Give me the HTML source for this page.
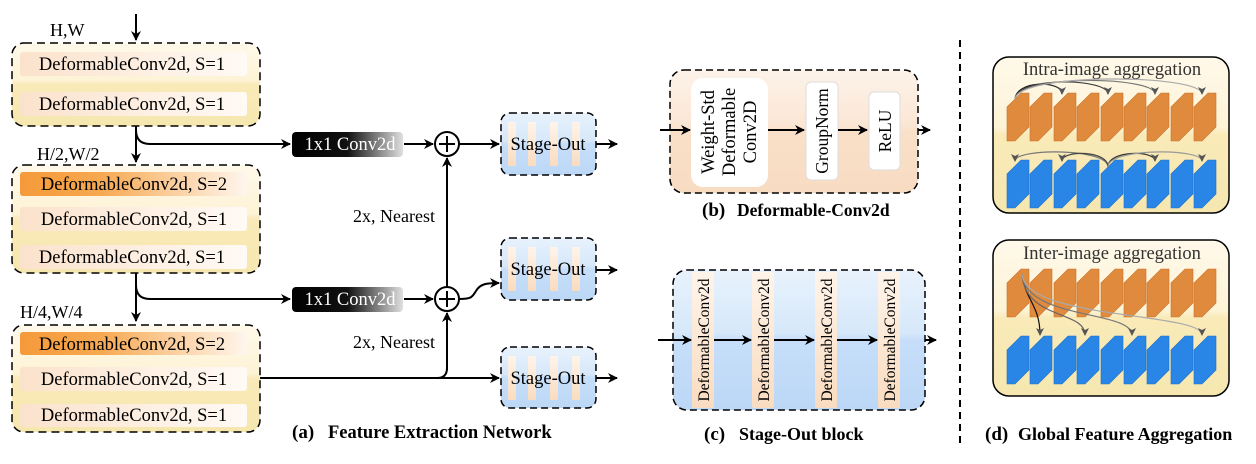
<!DOCTYPE html>
<html><head><meta charset="utf-8"><style>
html,body{margin:0;padding:0;background:#fff;}
svg, svg text{font-family:"Liberation Serif","Times New Roman",serif;}
</style></head><body>
<svg width="1256" height="459" viewBox="0 0 1256 459" xmlns="http://www.w3.org/2000/svg" font-family="Liberation Serif, serif">
<defs>
<linearGradient id="yel" x1="0" y1="0" x2="0" y2="1"><stop offset="0" stop-color="#fff9ea"/><stop offset="0.45" stop-color="#fdf3d6"/><stop offset="0.5" stop-color="#f9eab8"/><stop offset="1" stop-color="#f6e7b0"/></linearGradient>
<linearGradient id="row" x1="0" y1="0" x2="1" y2="0"><stop offset="0" stop-color="#fbe2cc"/><stop offset="1" stop-color="#fffaf5"/></linearGradient>
<linearGradient id="rowo" x1="0" y1="0" x2="1" y2="0"><stop offset="0" stop-color="#f59a3a"/><stop offset="0.35" stop-color="#f7a850"/><stop offset="1" stop-color="#fff6ee"/></linearGradient>
<linearGradient id="blk" x1="0" y1="0" x2="1" y2="0"><stop offset="0" stop-color="#000"/><stop offset="0.5" stop-color="#111"/><stop offset="1" stop-color="#e0e0e0"/></linearGradient>
<linearGradient id="blue" x1="0" y1="0" x2="0" y2="1"><stop offset="0" stop-color="#e8f2fc"/><stop offset="0.45" stop-color="#d6e8fa"/><stop offset="0.5" stop-color="#c6defa"/><stop offset="1" stop-color="#bcd8f6"/></linearGradient>
<linearGradient id="peach" x1="0" y1="0" x2="0" y2="1"><stop offset="0" stop-color="#fdf3ea"/><stop offset="0.45" stop-color="#fbe6d4"/><stop offset="0.5" stop-color="#f9e0c8"/><stop offset="1" stop-color="#f8dcc2"/></linearGradient>
<linearGradient id="bar" x1="0" y1="0" x2="0" y2="1"><stop offset="0" stop-color="#fff4ea"/><stop offset="1" stop-color="#f9dcc0"/></linearGradient>
<marker id="ar" markerWidth="10" markerHeight="10" refX="9" refY="5" orient="auto" markerUnits="userSpaceOnUse"><path d="M0,0 L10,5 L0,10 L3,5 z" fill="#000"/></marker>
<marker id="ag" markerWidth="8" markerHeight="8" refX="7" refY="4" orient="auto" markerUnits="userSpaceOnUse"><path d="M0,0 L8,4 L0,8 L2,4 z" fill="#555"/></marker>
<g id="so">
<path d="M0,14 L14,0 L22,0 V34 L8,48 L0,48 Z"/>
</g>
</defs>

<!-- (a) -->
<path d="M136,14 V40" stroke="#000" stroke-width="2" marker-end="url(#ar)"/>
<text x="50" y="36" font-size="18">H,W</text>
<rect x="12" y="43" width="248" height="83" rx="12" fill="url(#yel)" stroke="#000" stroke-width="1.5" stroke-dasharray="8,5"/>
<rect x="20" y="52" width="227" height="24" rx="3" fill="url(#row)"/>
<text x="132" y="70" font-size="18.5" text-anchor="middle">DeformableConv2d, S=1</text>
<rect x="20" y="92" width="227" height="24" rx="3" fill="url(#row)"/>
<text x="132" y="110" font-size="18.5" text-anchor="middle">DeformableConv2d, S=1</text>

<path d="M136,126 V162" stroke="#000" stroke-width="2" marker-end="url(#ar)"/>
<path d="M136,130 Q136,144 150,144 H290" stroke="#000" stroke-width="2" fill="none" marker-end="url(#ar)"/>
<text x="37" y="160" font-size="18">H/2,W/2</text>
<rect x="12" y="165" width="248" height="108" rx="12" fill="url(#yel)" stroke="#000" stroke-width="1.5" stroke-dasharray="8,5"/>
<rect x="20" y="172" width="227" height="24" rx="3" fill="url(#rowo)"/>
<text x="134" y="190" font-size="18.5" text-anchor="middle">DeformableConv2d, S=2</text>
<rect x="20" y="207" width="227" height="24" rx="3" fill="url(#row)"/>
<text x="134" y="225" font-size="18.5" text-anchor="middle">DeformableConv2d, S=1</text>
<rect x="20" y="245" width="227" height="24" rx="3" fill="url(#row)"/>
<text x="132" y="263" font-size="18.5" text-anchor="middle">DeformableConv2d, S=1</text>

<path d="M136,273 V321" stroke="#000" stroke-width="2" marker-end="url(#ar)"/>
<path d="M136,285 Q136,299 150,299 H290" stroke="#000" stroke-width="2" fill="none" marker-end="url(#ar)"/>
<text x="20" y="318" font-size="18">H/4,W/4</text>
<rect x="12" y="325" width="248" height="107" rx="12" fill="url(#yel)" stroke="#000" stroke-width="1.5" stroke-dasharray="8,5"/>
<rect x="20" y="332" width="227" height="23" rx="3" fill="url(#rowo)"/>
<text x="132" y="350" font-size="18.5" text-anchor="middle">DeformableConv2d, S=2</text>
<rect x="20" y="367" width="227" height="24" rx="3" fill="url(#row)"/>
<text x="134" y="385" font-size="18.5" text-anchor="middle">DeformableConv2d, S=1</text>
<rect x="20" y="404" width="227" height="23" rx="3" fill="url(#row)"/>
<text x="134" y="421" font-size="18.5" text-anchor="middle">DeformableConv2d, S=1</text>

<rect x="292" y="132" width="111" height="25" rx="4" fill="url(#blk)"/>
<text x="350" y="150" font-size="18.5" fill="#fff" text-anchor="middle">1x1 Conv2d</text>
<rect x="292" y="287" width="111" height="25" rx="4" fill="url(#blk)"/>
<text x="350" y="305" font-size="18.5" fill="#fff" text-anchor="middle">1x1 Conv2d</text>
<path d="M404,144 H433" stroke="#000" stroke-width="2" marker-end="url(#ar)"/>
<path d="M404,299 H433" stroke="#000" stroke-width="2" marker-end="url(#ar)"/>

<circle cx="447" cy="144" r="12" fill="#fff" stroke="#000" stroke-width="2"/>
<path d="M447,136 V152 M439,144 H455" stroke="#000" stroke-width="2"/>
<circle cx="447" cy="299" r="12" fill="#fff" stroke="#000" stroke-width="2"/>
<path d="M447,291 V307 M439,299 H455" stroke="#000" stroke-width="2"/>
<path d="M447,287 V158" stroke="#000" stroke-width="2" marker-end="url(#ar)"/>
<path d="M447,370 V313" stroke="#000" stroke-width="2" marker-end="url(#ar)"/>
<path d="M260,378 H437 Q447,378 447,368" stroke="#000" stroke-width="2" fill="none"/>
<path d="M430,378 H499" stroke="#000" stroke-width="2" marker-end="url(#ar)"/>
<text x="353" y="222" font-size="18">2x, Nearest</text>
<text x="353" y="348" font-size="18">2x, Nearest</text>
<path d="M459,144 H499" stroke="#000" stroke-width="2" marker-end="url(#ar)"/>
<path d="M459,299 C472,299 472,297 476,291 C480,284 486,283 499,283" stroke="#000" stroke-width="2" fill="none" marker-end="url(#ar)"/>

<g>
<rect x="501" y="113" width="95" height="62" rx="9" fill="url(#blue)" stroke="#000" stroke-width="1.5" stroke-dasharray="7,4"/>
<rect x="508" y="122" width="8" height="44" fill="url(#bar)"/><rect x="528" y="122" width="8" height="44" fill="url(#bar)"/><rect x="550" y="122" width="8" height="44" fill="url(#bar)"/><rect x="572" y="122" width="8" height="44" fill="url(#bar)"/>
<text x="548" y="150" font-size="18.5" text-anchor="middle">Stage-Out</text>
<path d="M596,144 H617" stroke="#000" stroke-width="2" marker-end="url(#ar)"/>
</g>
<g>
<rect x="501" y="238" width="95" height="62" rx="9" fill="url(#blue)" stroke="#000" stroke-width="1.5" stroke-dasharray="7,4"/>
<rect x="508" y="247" width="8" height="44" fill="url(#bar)"/><rect x="528" y="247" width="8" height="44" fill="url(#bar)"/><rect x="550" y="247" width="8" height="44" fill="url(#bar)"/><rect x="572" y="247" width="8" height="44" fill="url(#bar)"/>
<text x="548" y="275" font-size="18.5" text-anchor="middle">Stage-Out</text>
<path d="M596,270 H617" stroke="#000" stroke-width="2" marker-end="url(#ar)"/>
</g>
<g>
<rect x="501" y="347" width="95" height="61" rx="9" fill="url(#blue)" stroke="#000" stroke-width="1.5" stroke-dasharray="7,4"/>
<rect x="508" y="356" width="8" height="44" fill="url(#bar)"/><rect x="528" y="356" width="8" height="44" fill="url(#bar)"/><rect x="550" y="356" width="8" height="44" fill="url(#bar)"/><rect x="572" y="356" width="8" height="44" fill="url(#bar)"/>
<text x="548" y="384" font-size="18.5" text-anchor="middle">Stage-Out</text>
<path d="M596,378 H617" stroke="#000" stroke-width="2" marker-end="url(#ar)"/>
</g>
<text x="292" y="438" font-size="19" font-weight="bold">(a)</text>
<text x="328" y="438" font-size="18.5" font-weight="bold">Feature Extraction Network</text>

<!-- (b) -->
<rect x="670" y="70" width="248" height="123" rx="14" fill="url(#peach)" stroke="#000" stroke-width="1.5" stroke-dasharray="7,4"/>
<path d="M660,130 H690" stroke="#000" stroke-width="2" marker-end="url(#ar)"/>
<rect x="691" y="78" width="77" height="109" rx="12" fill="#fff"/>
<text transform="translate(714,132) rotate(-90)" font-size="18.5" text-anchor="middle">Weight-Std</text>
<text transform="translate(735,132) rotate(-90)" font-size="18.5" text-anchor="middle">Deformable</text>
<text transform="translate(756,132) rotate(-90)" font-size="18.5" text-anchor="middle">Conv2D</text>
<path d="M768,130 H804" stroke="#000" stroke-width="2" marker-end="url(#ar)"/>
<rect x="806" y="82" width="32" height="98" rx="5" fill="#fff" stroke="#ddd"/>
<text transform="translate(828,131) rotate(-90)" font-size="17.5" text-anchor="middle">GroupNorm</text>
<path d="M838,130 H867" stroke="#000" stroke-width="2" marker-end="url(#ar)"/>
<rect x="869" y="92" width="31" height="78" rx="5" fill="#fff" stroke="#ddd"/>
<text transform="translate(891,131) rotate(-90)" font-size="17.5" text-anchor="middle">ReLU</text>
<path d="M918,130 H930" stroke="#000" stroke-width="2" marker-end="url(#ar)"/>
<text x="702" y="216" font-size="19" font-weight="bold">(b)</text>
<text x="737" y="216" font-size="17.5" font-weight="bold">Deformable-Conv2d</text>

<!-- (c) -->
<rect x="673" y="270" width="252" height="140" rx="14" fill="url(#blue)" stroke="#000" stroke-width="1.5" stroke-dasharray="7,4"/>
<path d="M658,340 H691" stroke="#000" stroke-width="2" marker-end="url(#ar)"/>
<rect x="692" y="272" width="22" height="136" rx="2" fill="url(#bar)"/>
<rect x="752" y="272" width="22" height="136" rx="2" fill="url(#bar)"/>
<rect x="815" y="272" width="22" height="136" rx="2" fill="url(#bar)"/>
<rect x="878" y="272" width="22" height="136" rx="2" fill="url(#bar)"/>
<text transform="translate(709,340) rotate(-90)" font-size="15.5" text-anchor="middle">DeformableConv2d</text>
<text transform="translate(769,340) rotate(-90)" font-size="15.5" text-anchor="middle">DeformableConv2d</text>
<text transform="translate(832,340) rotate(-90)" font-size="15.5" text-anchor="middle">DeformableConv2d</text>
<text transform="translate(895,340) rotate(-90)" font-size="15.5" text-anchor="middle">DeformableConv2d</text>
<path d="M714,340 H751" stroke="#000" stroke-width="2" marker-end="url(#ar)"/>
<path d="M774,340 H814" stroke="#000" stroke-width="2" marker-end="url(#ar)"/>
<path d="M837,340 H877" stroke="#000" stroke-width="2" marker-end="url(#ar)"/>
<path d="M925,340 H936" stroke="#000" stroke-width="2" marker-end="url(#ar)"/>
<text x="704" y="440" font-size="19" font-weight="bold">(c)</text>
<text x="739" y="440" font-size="18" font-weight="bold">Stage-Out block</text>

<path d="M960,40 V445" stroke="#000" stroke-width="2" stroke-dasharray="7,5"/>

<!-- (d) -->
<rect x="993" y="57" width="236" height="156" rx="16" fill="url(#yel)" stroke="#000" stroke-width="1.5"/>
<text x="1112" y="75" font-size="18.5" text-anchor="middle" fill="#333">Intra-image aggregation</text>
<rect x="993" y="240" width="236" height="156" rx="16" fill="url(#yel)" stroke="#000" stroke-width="1.5"/>
<text x="1112" y="259" font-size="18.5" text-anchor="middle" fill="#333">Inter-image aggregation</text>
<g id="blocks">
<g fill="#e08a3e" stroke="#c8732a" stroke-width="0.6">
<use href="#so" x="1007" y="93"/><use href="#so" x="1030" y="93"/><use href="#so" x="1054" y="93"/><use href="#so" x="1077" y="93"/><use href="#so" x="1101" y="93"/><use href="#so" x="1124" y="93"/><use href="#so" x="1147" y="93"/><use href="#so" x="1171" y="93"/><use href="#so" x="1194" y="93"/>
</g>
<g fill="#2a86e6" stroke="#1e70c8" stroke-width="0.6">
<use href="#so" x="1007" y="160"/><use href="#so" x="1030" y="160"/><use href="#so" x="1054" y="160"/><use href="#so" x="1077" y="160"/><use href="#so" x="1101" y="160"/><use href="#so" x="1124" y="160"/><use href="#so" x="1147" y="160"/><use href="#so" x="1171" y="160"/><use href="#so" x="1194" y="160"/>
</g>
</g>
<use href="#blocks" transform="translate(0,176)"/>
<g fill="none" stroke-width="1.2">
<path d="M1015,100 C1015,80 1062,80 1062,94" stroke="#222" marker-end="url(#ag)"/>
<path d="M1015,100 C1015,76 1108,78 1108,94" stroke="#444" marker-end="url(#ag)"/>
<path d="M1015,100 C1015,74 1155,76 1155,94" stroke="#777" marker-end="url(#ag)"/>
<path d="M1015,100 C1015,72 1202,74 1202,94" stroke="#aaa" marker-end="url(#ag)"/>
<path d="M1108,167 C1108,148 1015,148 1015,161" stroke="#777" marker-end="url(#ag)"/>
<path d="M1108,167 C1108,150 1062,150 1062,161" stroke="#444" marker-end="url(#ag)"/>
<path d="M1108,167 C1108,150 1155,150 1155,161" stroke="#333" marker-end="url(#ag)"/>
<path d="M1108,167 C1108,148 1202,148 1202,161" stroke="#999" marker-end="url(#ag)"/>
<path d="M1022,274 C1025,300 1040,305 1040,335" stroke="#111" marker-end="url(#ag)"/>
<path d="M1022,274 C1025,320 1085,310 1085,335" stroke="#666" marker-end="url(#ag)"/>
<path d="M1022,274 C1025,320 1132,310 1132,335" stroke="#777" marker-end="url(#ag)"/>
<path d="M1022,274 C1025,320 1202,312 1202,335" stroke="#aaa" marker-end="url(#ag)"/>
</g>
<text x="985" y="440" font-size="19" font-weight="bold">(d)</text>
<text x="1018" y="440" font-size="18" font-weight="bold">Global Feature Aggregation</text>
</svg>
</body></html>
